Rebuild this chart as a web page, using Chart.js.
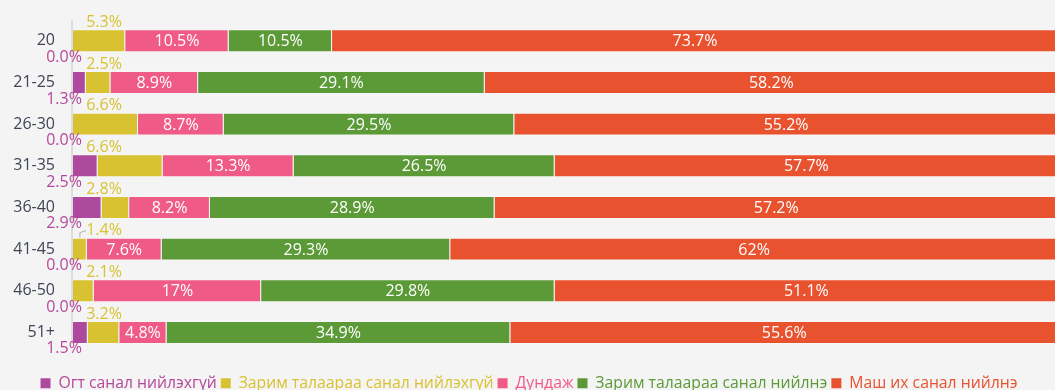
<!DOCTYPE html>
<html>
<head>
<meta charset="utf-8">
<script src="https://cdn.jsdelivr.net/npm/chart.js@4"></script>
<style>
  html, body { margin: 0; padding: 0; background: #f4f4f4; overflow: hidden; }
  #wrap { width: 1058px; height: 390px; position: relative; }
</style>
</head>
<body>
<div id="wrap"><canvas id="myChart"></canvas></div>
<script>
const ageGroups = ['20', '21-25', '26-30', '31-35', '36-40', '41-45', '46-50', '51+'];
const seriesNames = [
    'Огт санал нийлэхгүй',
    'Зарим талаараа санал нийлэхгүй',
    'Дундаж',
    'Зарим талаараа санал нийлнэ',
    'Маш их санал нийлнэ',
];
const stronglyDisagree = [0.0, 1.3, 0.0, 2.5, 2.9, 0.0, 0.0, 1.5];
const somewhatDisagree = [5.3, 2.5, 6.6, 6.6, 2.8, 1.4, 2.1, 3.2];
const neutral = [10.5, 8.9, 8.7, 13.3, 8.2, 7.6, 17, 4.8];
const somewhatAgree = [10.5, 29.1, 29.5, 26.5, 28.9, 29.3, 29.8, 34.9];
const stronglyAgree = [73.7, 58.2, 55.2, 57.7, 57.2, 62, 51.1, 55.6];

const colors = ['#ae4a9e', '#d9c232', '#f05a86', '#5b9a37', '#e9522f'];
const FONT = '"Open Sans", "Noto Sans", sans-serif';

const series = [stronglyDisagree, somewhatDisagree, neutral, somewhatAgree, stronglyAgree];

const data = {
    labels: ageGroups,
    datasets: series.map((values, i) => ({
        label: seriesNames[i],
        data: values,
        backgroundColor: colors[i],
        borderColor: 'rgba(255, 255, 255, 0.3)',
        borderWidth: 1,
        barPercentage: 0.55,
        categoryPercentage: 1,
    }))
};

// axis line on the left, then value labels around/inside the segments
const segmentLabels = {
    id: 'segmentLabels',
    beforeDatasetsDraw(chart) {
        const ctx = chart.ctx;
        const area = chart.chartArea;
        const bars = chart.getDatasetMeta(0).data;
        const lastBar = bars[bars.length - 1];
        ctx.save();
        ctx.strokeStyle = '#dcdcdc';
        ctx.lineWidth = 2;
        ctx.beginPath();
        ctx.moveTo(area.left - 1, area.top);
        ctx.lineTo(area.left - 1, lastBar.y + lastBar.height / 2);
        ctx.stroke();
        ctx.restore();
    },
    afterDatasetsDraw(chart) {
        const ctx = chart.ctx;
        const area = chart.chartArea;
        ctx.save();
        ctx.font = '16px ' + FONT;
        ctx.textBaseline = 'middle';
        ctx.textAlign = 'center';
        chart.data.datasets.forEach((ds, i) => {
            const meta = chart.getDatasetMeta(i);
            meta.data.forEach((bar, j) => {
                const v = ds.data[j];
                const left = Math.min(bar.x, bar.base);
                const right = Math.min(Math.max(bar.x, bar.base), area.right);
                const top = bar.y - bar.height / 2;
                const bottom = bar.y + bar.height / 2;
                if (i === 0) {
                    ctx.fillStyle = '#b5489c';
                    ctx.fillText(v.toFixed(1) + '%', area.left - 9, bottom + 5);
                } else if (i === 1) {
                    ctx.fillStyle = colors[1];
                    ctx.fillText(v.toFixed(1) + '%', area.left + 31, top - 7);
                    if (right - left < 18) {
                        const mx = (left + right) / 2;
                        ctx.strokeStyle = '#b0b0b0';
                        ctx.lineWidth = 1;
                        ctx.beginPath();
                        ctx.moveTo(mx, top);
                        ctx.lineTo(mx, top - 5);
                        ctx.lineTo(area.left + 13, top - 7);
                        ctx.stroke();
                    }
                } else {
                    ctx.fillStyle = '#ffffff';
                    ctx.fillText(v + '%', (left + right) / 2, bar.y + 1);
                }
            });
        });
        ctx.restore();
    }
};

const config = {
    type: 'bar',
    data: data,
    options: {
        indexAxis: 'y',
        responsive: true,
        maintainAspectRatio: false,
        animation: false,
        layout: { padding: { top: 20, right: 0, left: 0, bottom: -11 } },
        scales: {
            x: {
                stacked: true,
                min: 0,
                max: 100,
                ticks: { display: false },
                grid: { display: false, drawTicks: false },
                border: { display: false },
                afterFit: (scale) => { scale.height = 18; }
            },
            y: {
                stacked: true,
                grid: { display: false, drawTicks: false },
                border: { display: false },
                ticks: {
                    color: '#404656',
                    padding: 18,
                    font: { family: FONT, size: 16 }
                },
                afterFit: (scale) => {
                    scale.width = 73;
                    scale.paddingTop = 0;
                    scale.paddingBottom = 0;
                }
            }
        },
        plugins: {
            tooltip: { enabled: false },
            legend: {
                position: 'bottom',
                labels: {
                    boxWidth: 10,
                    boxHeight: 10,
                    padding: 4,
                    font: { family: FONT, size: 15.75 },
                    generateLabels(chart) {
                        const items = Chart.defaults.plugins.legend.labels.generateLabels(chart);
                        items.forEach((item, i) => {
                            item.fontColor = i === 0 ? '#b5489c' : colors[i];
                            item.lineWidth = 0;
                            item.strokeStyle = 'transparent';
                        });
                        return items;
                    }
                }
            }
        }
    },
    plugins: [segmentLabels]
};

const myChart = new Chart(document.getElementById('myChart'), config);
</script>
</body>
</html>
